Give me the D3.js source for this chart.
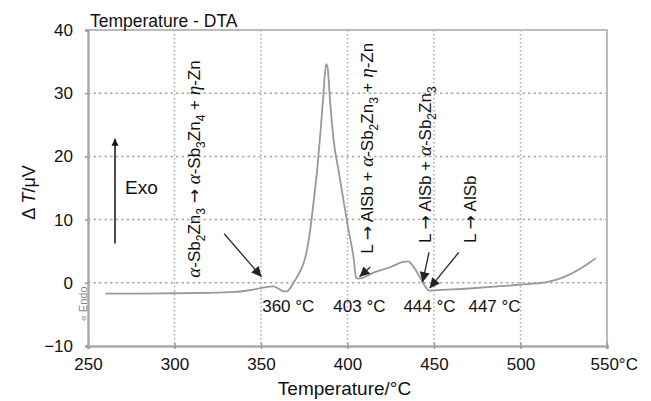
<!DOCTYPE html>
<html><head><meta charset="utf-8">
<script src="https://cdn.jsdelivr.net/npm/d3@7/dist/d3.min.js"></script>
<style>
body{margin:0;background:#fff;}
text{font-family:"Liberation Sans",Arial,sans-serif;fill:#111;}
</style></head>
<body><svg id="c" width="651" height="401"></svg>
<script>
// DTA curve (temperature °C, ΔT µV)
const temps = [260,280,300,320,335,345,350,354,357,360,363,365,367,369,372,374.5,376.5,378.5,380.5,382.5,384.3,386,387.6,388.4,390,392,395,397.7,400.5,403.5,405,406.5,415,425,432,435,438,441,444,446,447.3,450,470,490,500,515,525,535,540,543.5];
const dta   = [-1.7,-1.7,-1.65,-1.6,-1.45,-1.1,-0.85,-0.65,-0.55,-0.9,-1.35,-1.35,-0.8,0.1,1.5,3,5.1,8.5,13,18,23.6,29.5,34.6,34.2,28.5,22.5,17.5,13,8.5,4,0.8,0.65,1.6,2.5,3.3,3.4,2.6,1.3,-0.2,-1.0,-1.25,-1.2,-0.9,-0.5,-0.3,0.1,0.9,2.3,3.2,3.9];
const xTicks = [250,300,350,400,450,500,550];
const yTicks = [-10,0,10,20,30,40];
const xGrid = [300,350,400,450,500];
const yGrid = [0,10,20,30];
const tempLabels = ["360 °C","403 °C","444 °C","447 °C"];
const tempLabelT = [350.7,391.8,432.3,469.9];
const arrowFrom = [[328.7,7.75],[413.2,2.5],[447.1,4.8],[464.3,4.8]];
const arrowTo   = [[350.3,0.95],[406.9,0.95],[443.4,0.1],[447.5,-0.85]];
// rotated reaction labels: segments [text, kind] kind: n normal, i italic, s subscript, a arrow
const reactions = [
  [["α","i"],["-Sb","n"],["2","s"],["Zn","n"],["3","s"],[" ","n"],["→","a"],[" ","n"],["α","i"],["-Sb","n"],["3","s"],["Zn","n"],["4","s"],[" + ","n"],["η","i"],["-Zn","n"]],
  [["L ","n"],["→","a"],[" AlSb + ","n"],["α","i"],["-Sb","n"],["2","s"],["Zn","n"],["3","s"],[" + ","n"],["η","i"],["-Zn","n"]],
  [["L ","n"],["→","a"],[" AlSb + ","n"],["α","i"],["-Sb","n"],["2","s"],["Zn","n"],["3","s"]],
  [["L ","n"],["→","a"],[" AlSb","n"]]
];
const reactionPos = [[314.8,0.8],[414.9,4.6],[448.5,6.3],[474,6.3]];

const svg = d3.select("#c");
const x = d3.scaleLinear().domain([250,550]).range([88,607]);
const y = d3.scaleLinear().domain([-10,40]).range([346,30]);

const defs = svg.append("defs");
defs.append("marker").attr("id","ah").attr("viewBox","0 0 10 10")
  .attr("refX",10).attr("refY",5).attr("markerWidth",7).attr("markerHeight",11)
  .attr("markerUnits","userSpaceOnUse").attr("orient","auto")
  .append("path").attr("d","M0,0L10,5L0,10Z").attr("fill","#111");
defs.append("marker").attr("id","ah2").attr("viewBox","0 0 10 10")
  .attr("refX",10).attr("refY",5).attr("markerWidth",12).attr("markerHeight",10)
  .attr("markerUnits","userSpaceOnUse").attr("orient","auto")
  .append("path").attr("d","M0,0L10,5L0,10Z").attr("fill","#222");

// grid
svg.append("g").selectAll("line").data(xGrid).join("line")
  .attr("x1",d=>x(d)).attr("x2",d=>x(d)).attr("y1",y(40)).attr("y2",y(-10))
  .attr("stroke","#aaa").attr("stroke-width",1.5).attr("stroke-dasharray","1.5,2.5");
svg.append("g").selectAll("line").data(yGrid).join("line")
  .attr("x1",x(250)).attr("x2",x(550)).attr("y1",d=>y(d)).attr("y2",d=>y(d))
  .attr("stroke","#aaa").attr("stroke-width",1.5).attr("stroke-dasharray","2.5,3");

// frame
svg.append("path").attr("d",`M${x(250)},${y(40)}H${x(550)}V${y(-10)}`)
  .attr("fill","none").attr("stroke","#bbb").attr("stroke-width",2);

// axes
const xa = svg.append("g").attr("transform",`translate(0,${y(-10)})`)
  .call(d3.axisBottom(x).tickValues(xTicks).tickSize(3).tickPadding(9)
    .tickFormat(d=>d===550?"550°C":d));
xa.select(".domain").attr("stroke","#aaa").attr("stroke-width",2.5);
xa.selectAll(".tick line").attr("stroke","#999").attr("y1",-3).attr("stroke-width",1.5);
xa.selectAll(".tick text").attr("font-size",17).attr("fill","#111")
  .attr("font-family","Liberation Sans,Arial,sans-serif")
  .filter(d=>d===550).attr("text-anchor","start").attr("x",-17);

const ya = svg.append("g").attr("transform",`translate(${x(250)},0)`)
  .call(d3.axisLeft(y).tickValues(yTicks).tickSize(3).tickPadding(12)
    .tickFormat(d=>d<0?"−"+Math.abs(d):d));
ya.select(".domain").attr("stroke","#aaa").attr("stroke-width",2.5);
ya.selectAll(".tick line").attr("stroke","#999").attr("stroke-width",1.5);
ya.selectAll(".tick text").attr("font-size",17).attr("fill","#111")
  .attr("font-family","Liberation Sans,Arial,sans-serif");

// curve
const line = d3.line().x((d,i)=>x(temps[i])).y((d,i)=>y(dta[i])).curve(d3.curveMonotoneX);
svg.append("path").attr("d",line(dta)).attr("fill","none")
  .attr("stroke","#999").attr("stroke-width",1.8);

// arrows
svg.append("g").selectAll("line").data(arrowFrom).join("line")
  .attr("x1",d=>x(d[0])).attr("y1",d=>y(d[1]))
  .attr("x2",(d,i)=>x(arrowTo[i][0])).attr("y2",(d,i)=>y(arrowTo[i][1]))
  .attr("stroke","#333").attr("stroke-width",1.4).attr("marker-end","url(#ah2)");

// Exo arrow
svg.append("line").attr("x1",x(265.6)).attr("x2",x(265.6)).attr("y1",y(6.2)).attr("y2",y(22.8))
  .attr("stroke","#111").attr("stroke-width",1.5).attr("marker-end","url(#ah)");
svg.append("text").attr("x",x(271.4)).attr("y",y(14.1)).attr("font-size",19).text("Exo");
svg.append("text").attr("transform",`translate(${x(249.4)},${y(-6.1)}) rotate(-90)`)
  .attr("font-size",11).style("fill","#888").text("« Endo");

// temperature labels
svg.append("g").selectAll("text").data(tempLabels).join("text")
  .attr("x",(d,i)=>x(tempLabelT[i])).attr("y",y(-4.6)).attr("font-size",17).text(d=>d);

// reaction labels
reactions.forEach((segs,k)=>{
  const t = svg.append("text").attr("font-size",17)
    .attr("transform",`translate(${x(reactionPos[k][0])},${y(reactionPos[k][1])}) rotate(-90)`);
  let sub=false;
  segs.forEach(s=>{
    const ts = t.append("tspan").text(s[0]);
    if(s[1]==="i") ts.attr("font-style","italic").attr("font-family","Liberation Serif,Times New Roman,serif").attr("font-size",19);
    if(s[1]==="a") ts.attr("font-family","DejaVu Sans,sans-serif").attr("font-size",17);
    if(s[1]==="s"){ ts.attr("font-size",12).attr("dy",sub?0:5); sub=true; }
    else if(sub){ ts.attr("dy",-5); sub=false; }
  });
});

// titles
svg.append("text").attr("x",90).attr("y",27).attr("font-size",17.5).text("Temperature - DTA");
svg.append("text").attr("x",(x(250)+x(550))/2 - 3).attr("y",395).attr("text-anchor","middle")
  .attr("font-size",19).text("Temperature/°C");
const yt = svg.append("text").attr("transform",`translate(35,${y(14.3)}) rotate(-90)`)
  .attr("text-anchor","middle").attr("font-size",18);
yt.append("tspan").text("Δ ");
yt.append("tspan").attr("font-style","italic").text("T");
yt.append("tspan").text("/μV");
</script></body></html>
